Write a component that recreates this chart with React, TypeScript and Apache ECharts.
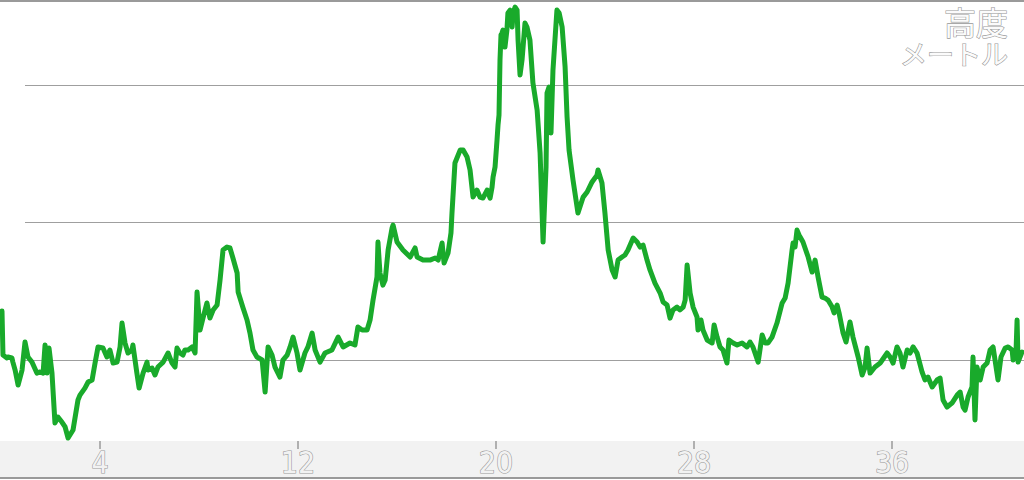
import React, { useEffect, useRef } from "react";
import * as echarts from "echarts";

const distanceKm: number[] = [
  0.04, 0.08, 0.24, 0.28, 0.44, 0.48, 0.57, 0.69, 0.85, 0.97,
  1.09, 1.25, 1.45, 1.58, 1.70, 1.78, 1.86, 1.94, 2.06, 2.18,
  2.30, 2.46, 2.59, 2.71, 2.91, 3.11, 3.19, 3.39, 3.52, 3.68,
  3.80, 3.92, 4.12, 4.28, 4.40, 4.53, 4.69, 4.81, 4.89, 5.01,
  5.13, 5.29, 5.33, 5.49, 5.58, 5.74, 5.90, 5.94, 6.10, 6.22,
  6.34, 6.55, 6.75, 6.91, 7.03, 7.11, 7.23, 7.35, 7.43, 7.56,
  7.72, 7.84, 7.92, 8.04, 8.16, 8.32, 8.44, 8.57, 8.73, 8.85,
  8.97, 9.13, 9.25, 9.37, 9.54, 9.58, 9.78, 9.94, 10.06, 10.18,
  10.34, 10.55, 10.67, 10.79, 10.95, 11.07, 11.27, 11.39, 11.56, 11.68,
  11.80, 11.96, 12.08, 12.28, 12.40, 12.57, 12.69, 12.89, 13.09, 13.37,
  13.62, 13.82, 14.10, 14.30, 14.42, 14.59, 14.79, 14.91, 15.03, 15.19,
  15.23, 15.31, 15.43, 15.52, 15.64, 15.80, 15.84, 16.00, 16.24, 16.53,
  16.73, 16.81, 17.05, 17.33, 17.54, 17.66, 17.82, 17.90, 18.06, 18.18,
  18.22, 18.34, 18.55, 18.67, 18.83, 18.95, 19.07, 19.23, 19.35, 19.47,
  19.64, 19.76, 19.84, 19.88, 19.96, 20.04, 20.08, 20.12, 20.16, 20.20,
  20.24, 20.28, 20.36, 20.44, 20.48, 20.57, 20.65, 20.69, 20.77, 20.85,
  20.89, 20.97, 21.05, 21.17, 21.25, 21.37, 21.49, 21.66, 21.78, 21.90,
  22.02, 22.06, 22.14, 22.22, 22.30, 22.38, 22.46, 22.55, 22.67, 22.79,
  22.87, 22.95, 23.11, 23.31, 23.52, 23.68, 23.88, 24.08, 24.12, 24.28,
  24.40, 24.53, 24.69, 24.81, 24.93, 25.09, 25.21, 25.33, 25.54, 25.70,
  25.82, 25.94, 26.10, 26.22, 26.42, 26.63, 26.75, 26.91, 27.03, 27.15,
  27.31, 27.43, 27.56, 27.64, 27.72, 27.84, 27.96, 28.12, 28.16, 28.28,
  28.36, 28.53, 28.73, 28.81, 28.93, 29.05, 29.17, 29.33, 29.41, 29.58,
  29.74, 29.94, 30.14, 30.26, 30.38, 30.59, 30.75, 30.87, 30.99, 31.15,
  31.35, 31.56, 31.68, 31.80, 31.96, 32.00, 32.08, 32.16, 32.24, 32.40,
  32.61, 32.77, 32.89, 33.01, 33.17, 33.29, 33.41, 33.58, 33.66, 33.78,
  33.86, 34.02, 34.14, 34.30, 34.42, 34.63, 34.79, 34.91, 34.99, 35.11,
  35.31, 35.52, 35.80, 35.92, 36.04, 36.20, 36.32, 36.44, 36.61, 36.73,
  36.85, 37.01, 37.21, 37.33, 37.45, 37.62, 37.82, 37.94, 38.06, 38.22,
  38.42, 38.63, 38.75, 38.87, 38.95, 39.07, 39.23, 39.27, 39.35, 39.43,
  39.56, 39.68, 39.84, 39.96, 40.08, 40.28, 40.40, 40.57, 40.69, 40.85,
  40.89, 41.01, 41.05, 41.09, 41.25,
];

const elevation: number[] = [
  135.6, 103.6, 101.5, 102.2, 101.5, 98.5, 92.7, 81.8, 92.7, 113.1,
  102.2, 98.5, 90.5, 91.3, 90.5, 110.9, 90.5, 108.7, 90.5, 54.2,
  58.5, 54.9, 51.3, 43.3, 49.1, 70.9, 74.5, 79.6, 84.0, 85.5,
  97.8, 109.5, 108.7, 102.2, 107.3, 97.8, 98.5, 109.5, 126.9, 112.4,
  105.1, 107.3, 110.9, 90.5, 79.6, 90.5, 98.5, 92.7, 94.2, 89.1,
  94.9, 98.5, 105.1, 97.8, 94.9, 108.7, 105.1, 103.6, 107.3, 107.3,
  109.5, 105.1, 149.5, 121.8, 130.5, 141.5, 130.5, 136.4, 140.0, 158.2,
  180.0, 182.2, 181.5, 174.2, 163.3, 149.5, 137.8, 129.1, 119.6, 107.3,
  102.2, 100.0, 76.7, 109.5, 103.6, 94.9, 87.6, 100.0, 103.6, 109.5,
  116.7, 105.1, 92.7, 105.1, 109.5, 119.6, 107.3, 98.5, 105.1, 107.3,
  116.7, 109.5, 112.4, 110.9, 124.0, 121.8, 121.8, 129.1, 143.6, 160.4,
  185.8, 163.3, 154.5, 158.2, 180.0, 196.0, 198.2, 185.8, 180.0, 174.9,
  181.5, 174.9, 172.7, 172.7, 174.2, 172.7, 185.1, 170.5, 177.8, 192.4,
  206.9, 243.3, 252.7, 252.7, 247.6, 238.2, 218.5, 223.6, 218.5, 217.8,
  223.6, 217.8, 225.8, 233.1, 240.4, 260.0, 270.9, 278.2, 318.2, 336.4,
  337.8, 340.0, 327.6, 340.0, 352.4, 354.5, 342.2, 352.4, 356.7, 354.5,
  332.7, 307.3, 318.2, 345.1, 342.2, 332.7, 301.5, 281.8, 250.5, 185.8,
  240.4, 294.2, 298.5, 265.1, 310.9, 332.7, 354.5, 352.4, 342.2, 313.1,
  276.7, 252.7, 230.9, 206.9, 218.5, 222.2, 229.5, 234.5, 238.2, 228.7,
  206.9, 180.0, 165.5, 160.4, 172.7, 174.9, 176.4, 180.0, 188.7, 185.8,
  182.2, 183.6, 172.7, 165.5, 156.0, 148.7, 142.2, 140.0, 130.5, 136.4,
  138.5, 136.4, 138.5, 143.6, 169.1, 148.7, 138.5, 131.3, 121.8, 129.1,
  121.8, 114.5, 112.4, 125.5, 116.7, 109.5, 107.3, 97.8, 114.5, 112.4,
  110.9, 112.4, 109.5, 113.1, 109.5, 98.5, 118.2, 112.4, 112.4, 116.7,
  126.9, 141.5, 145.1, 156.0, 180.0, 185.1, 182.2, 194.5, 190.9, 185.8,
  174.9, 164.0, 172.7, 160.4, 145.8, 145.1, 143.6, 138.5, 134.2, 140.0,
  134.2, 119.6, 113.1, 127.6, 116.7, 102.2, 89.1, 94.9, 108.7, 90.5,
  94.9, 97.8, 105.1, 102.2, 97.8, 109.5, 105.1, 94.9, 107.3, 105.1,
  109.5, 105.1, 91.3, 85.5, 87.6, 80.4, 85.5, 86.9, 70.9, 65.8,
  68.7, 74.5, 76.7, 65.8, 63.6, 73.1, 80.4, 102.2, 56.4, 94.9,
  85.5, 94.9, 97.8, 107.3, 109.5, 85.5, 102.2, 108.7, 109.5, 107.3,
  100.0, 107.3, 129.1, 98.5, 105.8,
];

const xTickValues: number[] = [4, 12, 20, 28, 36];
const gridLineValues: number[] = [100, 200, 300];
const titleLines: string[] = ["高度", "メートル"];

const X_MIN = 0;
const X_MAX = 41.33;
const Y_MIN = 41.1;
const Y_MAX = 360.4;
const GRID_START = 0.97;

export default function App() {
  const ref = useRef<HTMLDivElement>(null);

  useEffect(() => {
    if (!ref.current) return;
    const chart = echarts.init(ref.current, null, { renderer: "svg" });
    const data = distanceKm.map((d, i) => [d, elevation[i]]);
    const outline = {
      fill: "#fbfbfb",
      stroke: "#999999",
      lineWidth: 1.2,
      fontFamily: '"Noto Sans CJK JP", sans-serif',
    };
    chart.setOption({
      animation: false,
      backgroundColor: "#ffffff",
      grid: { left: 1, right: 0, top: 2, bottom: 39, containLabel: false },
      xAxis: {
        type: "value",
        min: X_MIN,
        max: X_MAX,
        axisLine: { show: false },
        splitLine: { show: false },
        axisTick: {
          show: true,
          customValues: xTickValues,
          length: 8,
          lineStyle: { color: "#9a9a9a", width: 1.5 },
        },
        axisLabel: {
          show: true,
          customValues: xTickValues,
          margin: 6,
          fontSize: 30,
          fontFamily: '"Liberation Sans Narrow", "DejaVu Sans Condensed", sans-serif',
          color: "#f2f2f2",
          textBorderColor: "#9a9a9a",
          textBorderWidth: 1.2,
        },
      },
      yAxis: {
        type: "value",
        min: Y_MIN,
        max: Y_MAX,
        axisLine: { show: false },
        axisTick: { show: false },
        axisLabel: { show: false },
        splitLine: { show: false },
      },
      graphic: [
        { type: "rect", z: 0, silent: true, shape: { x: 0, y: 441, width: 1024, height: 37 }, style: { fill: "#f2f2f2" } },
        { type: "rect", z: 0, silent: true, shape: { x: 0, y: 477, width: 1024, height: 2 }, style: { fill: "#9a9a9a" } },
        { type: "rect", z: 0, silent: true, shape: { x: 0, y: 0, width: 1024, height: 2 }, style: { fill: "#9a9a9a" } },
        {
          type: "text",
          z: 10,
          silent: true,
          x: 1008,
          y: 4,
          style: {
            text: `{a|${titleLines[0]}}\n{b|${titleLines[1]}}`,
            align: "right",
            verticalAlign: "top",
            fill: "#fbfbfb",
            stroke: "#999999",
            lineWidth: 1.2,
            rich: {
              a: { ...outline, fontSize: 32, lineHeight: 34, align: "right" },
              b: { ...outline, fontSize: 27, lineHeight: 30, align: "right" },
            },
          },
        },
      ],
      series: [
        {
          type: "line",
          name: "gridlines",
          data: [],
          z: 1,
          silent: true,
          markLine: {
            z: 1,
            silent: true,
            symbol: ["none", "none"],
            label: { show: false },
            lineStyle: { color: "#9f9f9f", width: 1, type: "solid" },
            emphasis: { disabled: true },
            data: gridLineValues.map((v) => [
              { coord: [GRID_START, v] },
              { coord: [X_MAX, v] },
            ]),
          },
        },
        {
          type: "line",
          name: "高度",
          data,
          z: 3,
          clip: false,
          showSymbol: false,
          symbol: "none",
          smooth: false,
          lineStyle: { color: "#19aa2b", width: 5, join: "round", cap: "round" },
        },
      ],
    });
    return () => chart.dispose();
  }, []);

  return (
    <div
      ref={ref}
      style={{ position: "fixed", left: 0, top: 0, width: 1024, height: 480 }}
    />
  );
}
